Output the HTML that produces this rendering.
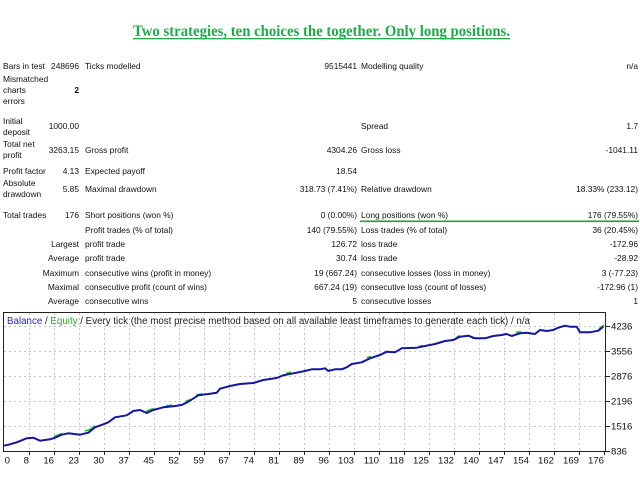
<!DOCTYPE html>
<html><head><meta charset="utf-8"><style>
html,body{margin:0;padding:0;background:#fff;}
svg{display:block;}
.t{font-family:"Liberation Sans",sans-serif;font-size:8.4px;fill:#111;}
.e{text-anchor:end;}
.a{font-family:"Liberation Sans",sans-serif;font-size:9.6px;fill:#111;}
</style></head><body>
<svg width="640" height="480" viewBox="0 0 640 480" xmlns="http://www.w3.org/2000/svg">
<rect width="640" height="480" fill="#fff"/>
<!-- Title -->
<text x="133" y="36" textLength="377" lengthAdjust="spacingAndGlyphs" style="font-family:'Liberation Serif',serif;font-weight:bold;font-size:16px;fill:#22a94a;">Two strategies, ten choices the together. Only long positions.</text>
<rect x="133" y="38" width="377" height="1.3" fill="#22a94a"/>

<!-- Table 1 -->
<text class="t" x="3" y="69">Bars in test</text>
<text class="t e" x="79" y="69">248696</text>
<text class="t" x="85" y="69">Ticks modelled</text>
<text class="t e" x="357" y="69">9515441</text>
<text class="t" x="361" y="69">Modelling quality</text>
<text class="t e" x="638" y="69">n/a</text>

<text class="t" x="3" y="82">Mismatched</text>
<text class="t" x="3" y="93">charts</text>
<text class="t" x="3" y="104">errors</text>
<text class="t e" x="79" y="93" style="font-weight:bold">2</text>

<text class="t" x="3" y="124">Initial</text>
<text class="t" x="3" y="135">deposit</text>
<text class="t e" x="79" y="129">1000.00</text>
<text class="t" x="361" y="129">Spread</text>
<text class="t e" x="638" y="129">1.7</text>

<text class="t" x="3" y="147">Total net</text>
<text class="t" x="3" y="158">profit</text>
<text class="t e" x="79" y="153">3263.15</text>
<text class="t" x="85" y="153">Gross profit</text>
<text class="t e" x="357" y="153">4304.26</text>
<text class="t" x="361" y="153">Gross loss</text>
<text class="t e" x="638" y="153">-1041.11</text>

<text class="t" x="3" y="174">Profit factor</text>
<text class="t e" x="79" y="174">4.13</text>
<text class="t" x="85" y="174">Expected payoff</text>
<text class="t e" x="357" y="174">18.54</text>

<text class="t" x="3" y="186">Absolute</text>
<text class="t" x="3" y="197">drawdown</text>
<text class="t e" x="79" y="192">5.85</text>
<text class="t" x="85" y="192">Maximal drawdown</text>
<text class="t e" x="357" y="192">318.73 (7.41%)</text>
<text class="t" x="361" y="192">Relative drawdown</text>
<text class="t e" x="638" y="192">18.33% (233.12)</text>

<!-- Table 2 -->
<text class="t" x="3" y="218">Total trades</text>
<text class="t e" x="79" y="218">176</text>
<text class="t" x="85" y="218">Short positions (won %)</text>
<text class="t e" x="357" y="218">0 (0.00%)</text>
<text class="t" x="361" y="218">Long positions (won %)</text>
<text class="t e" x="638" y="218">176 (79.55%)</text>
<rect x="360" y="220.5" width="279" height="1.6" fill="#1f9e3a"/>

<text class="t" x="85" y="233">Profit trades (% of total)</text>
<text class="t e" x="357" y="233">140 (79.55%)</text>
<text class="t" x="361" y="233">Loss trades (% of total)</text>
<text class="t e" x="638" y="233">36 (20.45%)</text>

<text class="t e" x="79" y="247">Largest</text>
<text class="t" x="85" y="247">profit trade</text>
<text class="t e" x="357" y="247">126.72</text>
<text class="t" x="361" y="247">loss trade</text>
<text class="t e" x="638" y="247">-172.96</text>

<text class="t e" x="79" y="261">Average</text>
<text class="t" x="85" y="261">profit trade</text>
<text class="t e" x="357" y="261">30.74</text>
<text class="t" x="361" y="261">loss trade</text>
<text class="t e" x="638" y="261">-28.92</text>

<text class="t e" x="79" y="276">Maximum</text>
<text class="t" x="85" y="276">consecutive wins (profit in money)</text>
<text class="t e" x="357" y="276">19 (667.24)</text>
<text class="t" x="361" y="276">consecutive losses (loss in money)</text>
<text class="t e" x="638" y="276">3 (-77.23)</text>

<text class="t e" x="79" y="290">Maximal</text>
<text class="t" x="85" y="290">consecutive profit (count of wins)</text>
<text class="t e" x="357" y="290">667.24 (19)</text>
<text class="t" x="361" y="290">consecutive loss (count of losses)</text>
<text class="t e" x="638" y="290">-172.96 (1)</text>

<text class="t e" x="79" y="304">Average</text>
<text class="t" x="85" y="304">consecutive wins</text>
<text class="t e" x="357" y="304">5</text>
<text class="t" x="361" y="304">consecutive losses</text>
<text class="t e" x="638" y="304">1</text>

<!-- Chart grid -->
<g stroke="#c4c4c4" stroke-width="1" stroke-dasharray="2 3">
<line x1="4" y1="326.5" x2="605" y2="326.5"/>
<line x1="4" y1="351.5" x2="605" y2="351.5"/>
<line x1="4" y1="376.5" x2="605" y2="376.5"/>
<line x1="4" y1="401.5" x2="605" y2="401.5"/>
<line x1="4" y1="426.5" x2="605" y2="426.5"/>
<line x1="29.5" y1="313" x2="29.5" y2="451"/>
<line x1="54.5" y1="313" x2="54.5" y2="451"/>
<line x1="79.5" y1="313" x2="79.5" y2="451"/>
<line x1="104.5" y1="313" x2="104.5" y2="451"/>
<line x1="129.5" y1="313" x2="129.5" y2="451"/>
<line x1="154.5" y1="313" x2="154.5" y2="451"/>
<line x1="179.5" y1="313" x2="179.5" y2="451"/>
<line x1="204.5" y1="313" x2="204.5" y2="451"/>
<line x1="229.5" y1="313" x2="229.5" y2="451"/>
<line x1="254.5" y1="313" x2="254.5" y2="451"/>
<line x1="279.5" y1="313" x2="279.5" y2="451"/>
<line x1="304.5" y1="313" x2="304.5" y2="451"/>
<line x1="329.5" y1="313" x2="329.5" y2="451"/>
<line x1="354.5" y1="313" x2="354.5" y2="451"/>
<line x1="379.5" y1="313" x2="379.5" y2="451"/>
<line x1="404.5" y1="313" x2="404.5" y2="451"/>
<line x1="429.5" y1="313" x2="429.5" y2="451"/>
<line x1="454.5" y1="313" x2="454.5" y2="451"/>
<line x1="479.5" y1="313" x2="479.5" y2="451"/>
<line x1="504.5" y1="313" x2="504.5" y2="451"/>
<line x1="529.5" y1="313" x2="529.5" y2="451"/>
<line x1="554.5" y1="313" x2="554.5" y2="451"/>
<line x1="579.5" y1="313" x2="579.5" y2="451"/>
</g>

<!-- Frame -->
<rect x="3.5" y="312.5" width="602" height="139" fill="none" stroke="#222" stroke-width="1"/>

<!-- Ticks -->
<g stroke="#222" stroke-width="1">
<line x1="606" y1="326.5" x2="610" y2="326.5"/>
<line x1="606" y1="351.5" x2="610" y2="351.5"/>
<line x1="606" y1="376.5" x2="610" y2="376.5"/>
<line x1="606" y1="401.5" x2="610" y2="401.5"/>
<line x1="606" y1="426.5" x2="610" y2="426.5"/>
<line x1="606" y1="451.5" x2="610" y2="451.5"/>
<line x1="29.5" y1="452" x2="29.5" y2="455"/>
<line x1="54.5" y1="452" x2="54.5" y2="455"/>
<line x1="79.5" y1="452" x2="79.5" y2="455"/>
<line x1="104.5" y1="452" x2="104.5" y2="455"/>
<line x1="129.5" y1="452" x2="129.5" y2="455"/>
<line x1="154.5" y1="452" x2="154.5" y2="455"/>
<line x1="179.5" y1="452" x2="179.5" y2="455"/>
<line x1="204.5" y1="452" x2="204.5" y2="455"/>
<line x1="229.5" y1="452" x2="229.5" y2="455"/>
<line x1="254.5" y1="452" x2="254.5" y2="455"/>
<line x1="279.5" y1="452" x2="279.5" y2="455"/>
<line x1="304.5" y1="452" x2="304.5" y2="455"/>
<line x1="329.5" y1="452" x2="329.5" y2="455"/>
<line x1="354.5" y1="452" x2="354.5" y2="455"/>
<line x1="379.5" y1="452" x2="379.5" y2="455"/>
<line x1="404.5" y1="452" x2="404.5" y2="455"/>
<line x1="429.5" y1="452" x2="429.5" y2="455"/>
<line x1="454.5" y1="452" x2="454.5" y2="455"/>
<line x1="479.5" y1="452" x2="479.5" y2="455"/>
<line x1="504.5" y1="452" x2="504.5" y2="455"/>
<line x1="529.5" y1="452" x2="529.5" y2="455"/>
<line x1="554.5" y1="452" x2="554.5" y2="455"/>
<line x1="579.5" y1="452" x2="579.5" y2="455"/>
<line x1="604.5" y1="452" x2="604.5" y2="455"/>
</g>

<!-- Legend -->
<text x="7" y="324" textLength="523" lengthAdjust="spacingAndGlyphs" style="font-family:'Liberation Sans',sans-serif;font-size:10px;fill:#222;"><tspan fill="#2a2ab0">Balance</tspan> / <tspan fill="#1fb01f">Equity</tspan> / Every tick (the most precise method based on all available least timeframes to generate each tick) / n/a</text>

<!-- Equity bits -->
<g stroke="#2bbb2b" stroke-width="1.6" fill="none">
<polyline points="54,436.5 58,435 62,433.3"/>
<polyline points="85,431 90,429.5 95,425.8"/>
<polyline points="146,411.5 150,409.5 154,408.8"/>
<polyline points="166,405.8 172,405"/>
<polyline points="186,401 191,399.5"/>
<polyline points="196,395 202,393.8"/>
<polyline points="286,373.5 291,372"/>
<polyline points="367,357.5 371,356.5"/>
<polyline points="419,346.3 423,345.5"/>
<polyline points="456,337.8 460,335.5"/>
<polyline points="472,338.5 476,337.8"/>
<polyline points="516,332.3 521,331.8"/>
<polyline points="599,328.8 604,325"/>
</g>

<!-- Balance line -->
<polyline fill="none" stroke="#15159e" stroke-width="2" stroke-linejoin="round" points="4,445.7 10,444.3 16.7,442.3 26.7,438.3 33.3,437.7 40,440.7 50,439.3 55,437.7 61.7,434.7 68.3,433.3 80,434.7 88.3,432.7 95,427.3 103.3,424.3 108.3,422.3 115,417.3 126.7,415.3 133.3,411 140,410 146.7,413 153.3,410 163.3,407.3 173.3,406.3 181.7,405 188.3,401.7 198.3,395.3 208.3,394 216.7,392.7 220,388.7 230,386 240,384 253.3,383 263.3,380 276.7,378 283.3,375.3 293.3,373.3 305,371 311.7,369.3 320,369.3 325,368.3 328.3,371 335,369.3 341.7,369.3 346.7,367.3 351.7,364 361.7,362.3 370,358.3 380,355 386.7,351.7 395,352.3 401.7,348.3 416.7,347.7 430,345 435,344 445,341 453.3,340 460,336.7 468.3,335.7 475,338.3 485,338.3 493.3,336 501.7,335 506.7,334 511.7,336 520,333.3 526.7,332.7 535,334 540,330 546.7,331 553.3,330 558.3,327.7 565,325.7 570,326.7 576.7,326.7 580,332.3 590,332.3 598.3,330.7 603.3,326.7"/>

<!-- Y labels -->
<text class="a" x="611" y="329.5">4236</text>
<text class="a" x="611" y="354.5">3556</text>
<text class="a" x="611" y="379.5">2876</text>
<text class="a" x="611" y="404.5">2196</text>
<text class="a" x="611" y="429.5">1516</text>
<text class="a" x="611" y="454.5">836</text>

<!-- X labels -->
<text class="a" x="7.3" y="463.5" text-anchor="middle">0</text>
<g class="a" text-anchor="end">
<text class="a" x="29" y="463.5" text-anchor="end">8</text>
<text class="a" x="54" y="463.5" text-anchor="end">16</text>
<text class="a" x="79" y="463.5" text-anchor="end">23</text>
<text class="a" x="104" y="463.5" text-anchor="end">30</text>
<text class="a" x="129" y="463.5" text-anchor="end">37</text>
<text class="a" x="154" y="463.5" text-anchor="end">45</text>
<text class="a" x="179" y="463.5" text-anchor="end">52</text>
<text class="a" x="204" y="463.5" text-anchor="end">59</text>
<text class="a" x="229" y="463.5" text-anchor="end">67</text>
<text class="a" x="254" y="463.5" text-anchor="end">74</text>
<text class="a" x="279" y="463.5" text-anchor="end">81</text>
<text class="a" x="304" y="463.5" text-anchor="end">89</text>
<text class="a" x="329" y="463.5" text-anchor="end">96</text>
<text class="a" x="354" y="463.5" text-anchor="end">103</text>
<text class="a" x="379" y="463.5" text-anchor="end">110</text>
<text class="a" x="404" y="463.5" text-anchor="end">118</text>
<text class="a" x="429" y="463.5" text-anchor="end">125</text>
<text class="a" x="454" y="463.5" text-anchor="end">132</text>
<text class="a" x="479" y="463.5" text-anchor="end">140</text>
<text class="a" x="504" y="463.5" text-anchor="end">147</text>
<text class="a" x="529" y="463.5" text-anchor="end">154</text>
<text class="a" x="554" y="463.5" text-anchor="end">162</text>
<text class="a" x="579" y="463.5" text-anchor="end">169</text>
<text class="a" x="604" y="463.5" text-anchor="end">176</text>
</g>
</svg>
</body></html>
